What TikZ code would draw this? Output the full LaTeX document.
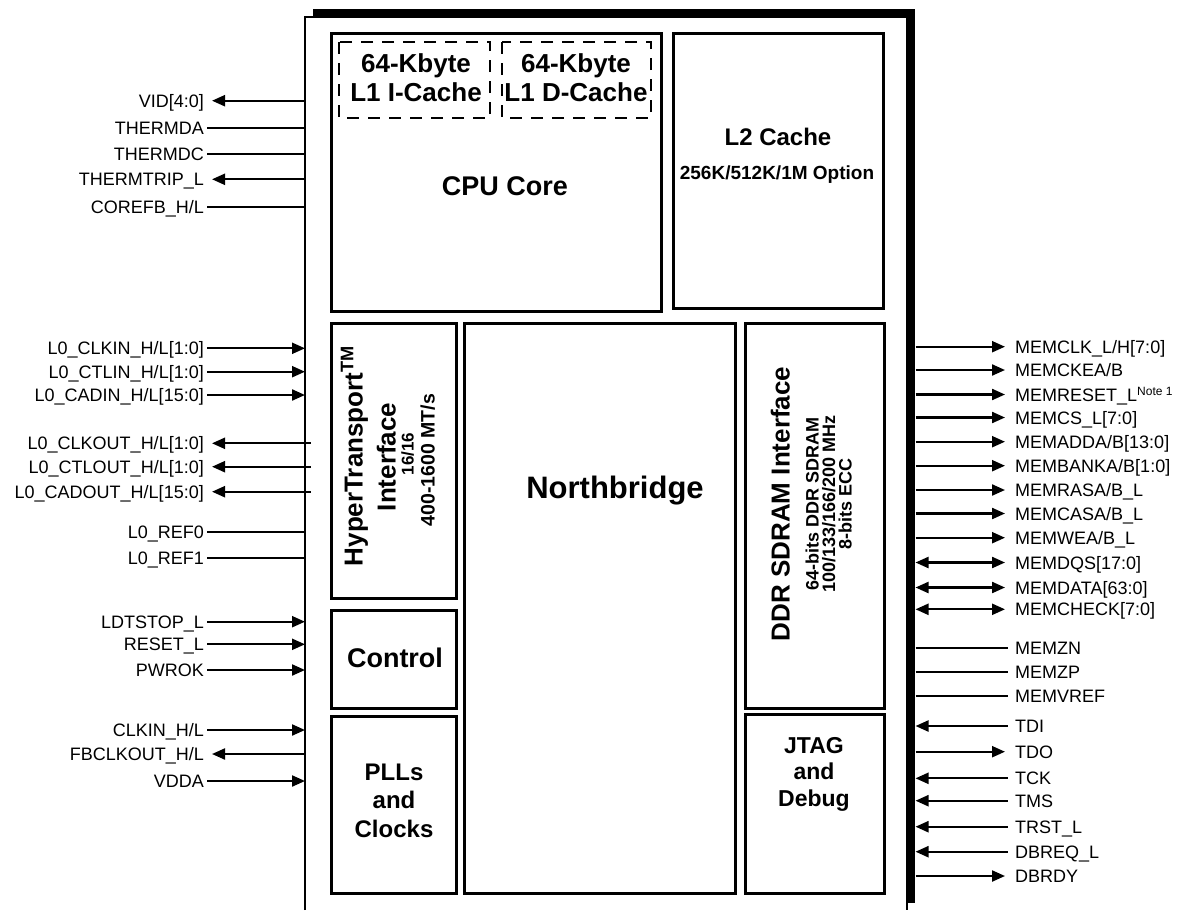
\documentclass[tikz,border=0pt]{standalone}
\usepackage{fontspec}
\setmainfont{Liberation Sans}
\usetikzlibrary{arrows.meta}
\tikzset{
  lbl/.style={font=\fontsize{18}{20}\selectfont, text height=13pt, text depth=0pt, inner ysep=0pt},
  lblL/.style={lbl, anchor=east, inner xsep=3pt},
  lblR/.style={lbl, anchor=west, inner xsep=7pt},
  sig/.style={line width=2.2pt},
  tri/.tip={Triangle[length=13pt,width=11pt]},
  Lin/.style={-tri},
  Lout/.style={tri-, shorten <=5pt},
  Lnone/.style={},
  Rout/.style={-tri, shorten >=3pt},
  Rin/.style={tri-},
  Rbi/.style={tri-tri, shorten >=3pt},
  Rnone/.style={},
  box/.style={draw, line width=3pt},
  dbox/.style={draw, line width=2pt, dash pattern=on 12pt off 9pt},
  btxt/.style={font=\bfseries\fontsize{#1}{#1}\selectfont, inner sep=0pt},
  btxt/.default=25,
  mtxt/.style n args={2}{font=\bfseries\fontsize{#1}{#2}\selectfont, inner sep=0pt, align=center},
}
\begin{document}
\begin{tikzpicture}[x=1pt,y=-1pt]
\useasboundingbox (0,0) rectangle (1185,910);
% chip body with shadow
\fill[black] (313,9) rectangle (915,903);
\fill[white] (305,17) rectangle (907,912);
\draw[line width=2pt] (305,910) -- (305,17) -- (907,17) -- (907,910);

% inner blocks
\draw[box] (331,33) rectangle (661,311);
\draw[box] (673,33) rectangle (883,308);
\draw[box] (331,323) rectangle (456,598);
\draw[box] (331,610) rectangle (456,708);
\draw[box] (331,716) rectangle (456,893);
\draw[box] (464,323) rectangle (735,893);
\draw[box] (745,323) rectangle (884,708);
\draw[box] (745,714) rectangle (884,893);
\draw[dbox] (339,42) rectangle (490,118);
\draw[dbox] (502,42) rectangle (651,118);

% block texts
\node[mtxt={26}{29}] (icache) at (416,77.5) {64-Kbyte\\L1 I-Cache};
\node[mtxt={26}{29}] (dcache) at (576,77.5) {64-Kbyte\\L1 D-Cache};
\node[btxt=27, text height=19.5pt, text depth=0pt] (cpu) at (505,186) {CPU Core};
\node[btxt=24, text height=17pt, text depth=0pt] (l2) at (778,137) {L2 Cache};
\node[btxt=19, text height=13.5pt, text depth=0pt] (l2opt) at (777,173) {256K/512K/1M Option};
\node[btxt=31, text height=22pt, text depth=0pt] (nb) at (615,487) {Northbridge};
\node[btxt=27, text height=19.5pt, text depth=0pt] (ctl) at (395,658) {Control};
\node[mtxt={24}{28.5}] (pll) at (394,800.5) {PLLs\\and\\Clocks};
\node[mtxt={23}{26.5}] (jtag) at (814,774) {JTAG\\and\\Debug};
% rotated texts
\node[btxt=26, rotate=90, text height=19pt, text depth=0pt] (ht1) at (353,456) {HyperTransport\textsuperscript{TM}};
\node[btxt=26, rotate=90, text height=19pt, text depth=0pt] (ht2) at (386,457) {Interface};
\node[btxt=17, rotate=90, text height=12pt, text depth=0pt] (ht3) at (407.5,454) {16/16};
\node[btxt=19.5, rotate=90, text height=14pt, text depth=0pt] (ht4) at (427.5,460) {400-1600 MT/s};
\node[btxt=26, rotate=90, text height=19pt, text depth=0pt] (ddr1) at (780,504) {DDR SDRAM Interface};
\node[btxt=18, rotate=90, text height=13pt, text depth=0pt] (ddr2) at (812,504) {64-bits DDR SDRAM};
\node[btxt=18, rotate=90, text height=13pt, text depth=0pt] (ddr3) at (828.5,504) {100/133/166/200 MHz};
\node[btxt=18, rotate=90, text height=13pt, text depth=0pt] (ddr4) at (845,504) {8-bits ECC};

% left signals
\foreach \n/\y/\t/\k/\cx in {
  vid/100.7/{VID[4:0]}/Lout/305,
  thda/127.7/{THERMDA}/Lnone/305,
  thdc/154/{THERMDC}/Lnone/305,
  thtrip/179.3/{THERMTRIP\_L}/Lout/305,
  corefb/206.7/{COREFB\_H/L}/Lnone/305,
  clkin/348.3/{L0\_CLKIN\_H/L[1:0]}/Lin/305,
  ctlin/371.7/{L0\_CTLIN\_H/L[1:0]}/Lin/305,
  cadin/395/{L0\_CADIN\_H/L[15:0]}/Lin/305,
  clkout/443.3/{L0\_CLKOUT\_H/L[1:0]}/Lout/311,
  ctlout/466.7/{L0\_CTLOUT\_H/L[1:0]}/Lout/311,
  cadout/491.7/{L0\_CADOUT\_H/L[15:0]}/Lout/311,
  ref0/532.3/{L0\_REF0}/Lnone/305,
  ref1/558.3/{L0\_REF1}/Lnone/305,
  ldt/621.7/{LDTSTOP\_L}/Lin/305,
  rst/644.3/{RESET\_L}/Lin/305,
  pwrok/670/{PWROK}/Lin/305,
  sclk/730/{CLKIN\_H/L}/Lin/305,
  fbclk/754/{FBCLKOUT\_H/L}/Lout/305,
  vdda/781/{VDDA}/Lin/305}
{
  \node[lblL] (\n) at (207,\y) {\t};
  \coordinate (\n C) at (\cx,\y);
  \draw[sig,\k] (\n.east) -- (\n C);
}

% right signals
\foreach \n/\y/\t/\k in {
  mclk/346.7/{MEMCLK\_L/H[7:0]}/Rout,
  mcke/370/{MEMCKEA/B}/Rout,
  mrst/394.5/{MEMRESET\_L\raisebox{6pt}{\fontsize{12}{12}\selectfont Note 1}}/Rout,
  mcs/417.5/{MEMCS\_L[7:0]}/Rout,
  madd/441.7/{MEMADDA/B[13:0]}/Rout,
  mbank/465.7/{MEMBANKA/B[1:0]}/Rout,
  mras/490/{MEMRASA/B\_L}/Rout,
  mcas/513.5/{MEMCASA/B\_L}/Rout,
  mwe/537.7/{MEMWEA/B\_L}/Rout,
  mdqs/562.5/{MEMDQS[17:0]}/Rbi,
  mdata/587.5/{MEMDATA[63:0]}/Rbi,
  mchk/609.3/{MEMCHECK[7:0]}/Rbi,
  mzn/648.3/{MEMZN}/Rnone,
  mzp/671.7/{MEMZP}/Rnone,
  mvref/695.7/{MEMVREF}/Rnone,
  tdi/726/{TDI}/Rin,
  tdo/751.7/{TDO}/Rout,
  tck/778.3/{TCK}/Rin,
  tms/800.7/{TMS}/Rin,
  trst/826.7/{TRST\_L}/Rin,
  dbreq/851.7/{DBREQ\_L}/Rin,
  dbrdy/876/{DBRDY}/Rout}
{
  \node[lblR] (\n) at (1008,\y) {\t};
  \coordinate (\n C) at (915.5,\y);
  \draw[sig,\k] (\n C) -- (\n.west);
}
\end{tikzpicture}
\end{document}
